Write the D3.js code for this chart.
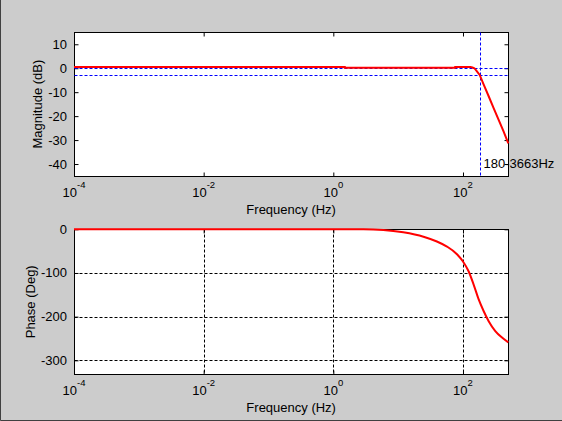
<!DOCTYPE html>
<html lang="en">
    <head>
        <meta charset="utf-8">
        <title>Bode plot</title>
        <script type="text/javascript" src="https://cdn.jsdelivr.net/npm/d3@7"></script>
        <style>
            body { margin: 0; background: #cccccc; }
            text { font-family: "Liberation Sans", Arial, sans-serif; fill: #000; }
        </style>
    </head>
    <body>
        <script type="text/javascript">
        // frequency decades shown on both x axes (exponents of 10)
        var decades = [-4, -2, 0, 2];
        var magTicks = [10, 0, -10, -20, -30, -40];
        var phaseTicks = [0, -100, -200, -300];

        // magnitude response
        var magFreq = [0.0001, 1.5, 1.5, 76, 76, 130, 140, 150, 162, 181, 208, 249, 297, 355, 424, 500];
        var magDb   = [0.55, 0.55, 0.25, 0.25, 0.55, 0.55, 0.3, 0, -1.1, -2.8, -6.7, -11.7, -16.7, -21.6, -26.5, -31.4];

        // phase response
        var phaseFreq = [0.0001, 2.9, 5.9, 12, 24.6, 39.6, 56.6, 80.8, 100, 122, 146, 174, 208, 249, 315, 400, 500];
        var phaseDeg  = [0, 0, -1.6, -7, -17, -28, -39.5, -57, -73.6, -96, -126.5, -160, -187, -210.5, -233, -248, -259];

        // cutoff markers
        var cutoffHz = 180;
        var refLevels = [0, -3];
        var bandLabel = "180-3663Hz";

        var w = 562;
        var h = 421;
        var left = 74, right = 508.3;

        function px(v) { return Math.round(v) + 0.5; }

        var svg = d3.select("body")
                    .append("svg")
                    .attr("width", w)
                    .attr("height", h);

        svg.append("rect")
            .attr("width", w)
            .attr("height", h)
            .attr("fill", "#cccccc");
        svg.append("path")
            .attr("d", "M0.5,0V" + (h - 0.5) + "H" + w)
            .attr("stroke", "#404040")
            .attr("fill", "none");

        var x = d3.scaleLog()
                  .domain([0.0001, 500])
                  .range([left, right]);

        var yMag = d3.scaleLinear()
                     .domain([-45, 15])
                     .range([176, 32.3]);

        var yPhase = d3.scaleLinear()
                       .domain([-332, 0])
                       .range([374.3, 229.3]);

        function drawAxes(y, yTicks, grid, yLabel, labelX) {
            var top = px(y.range()[1]), bottom = px(y.range()[0]);
            var l = px(left), r = px(right);
            var g = svg.append("g");

            g.append("rect")
                .attr("x", l)
                .attr("y", top)
                .attr("width", r - l)
                .attr("height", bottom - top)
                .attr("fill", "white");

            if (grid) {
                g.selectAll("line.gx")
                    .data(decades.slice(1))
                    .enter()
                    .append("line")
                    .attr("x1", function(d) { return px(x(Math.pow(10, d))); })
                    .attr("x2", function(d) { return px(x(Math.pow(10, d))); })
                    .attr("y1", top)
                    .attr("y2", bottom)
                    .attr("stroke", "black")
                    .attr("stroke-dasharray", "3,2");
                g.selectAll("line.gy")
                    .data(yTicks.filter(function(d) { return y(d) > top + 1; }))
                    .enter()
                    .append("line")
                    .attr("x1", l)
                    .attr("x2", r)
                    .attr("y1", function(d) { return px(y(d)); })
                    .attr("y2", function(d) { return px(y(d)); })
                    .attr("stroke", "black")
                    .attr("stroke-dasharray", "3,2");
            }

            // inward ticks on all four sides
            var xv = decades.map(function(d) { return Math.pow(10, d); });
            var xAxisB = d3.axisTop(x).tickValues(xv).tickSize(4).tickFormat("");
            var xAxisT = d3.axisBottom(x).tickValues(xv).tickSize(4).tickFormat("");
            var yAxisL = d3.axisRight(y).tickValues(yTicks).tickSize(4).tickFormat("");
            var yAxisR = d3.axisLeft(y).tickValues(yTicks).tickSize(4).tickFormat("");
            [[xAxisB, "translate(0," + bottom + ")"], [xAxisT, "translate(0," + top + ")"],
             [yAxisL, "translate(" + l + ",0)"], [yAxisR, "translate(" + r + ",0)"]].forEach(function(a) {
                var ax = g.append("g").attr("transform", a[1]).call(a[0]);
                ax.select(".domain").remove();
                ax.selectAll("line").attr("stroke", "black");
            });

            g.append("rect")
                .attr("x", l)
                .attr("y", top)
                .attr("width", r - l)
                .attr("height", bottom - top)
                .attr("fill", "none")
                .attr("stroke", "black");

            g.selectAll("text.yt")
                .data(yTicks)
                .enter()
                .append("text")
                .attr("x", left - 7)
                .attr("y", function(d) { return y(d) + 4.5; })
                .attr("text-anchor", "end")
                .attr("font-size", "13px")
                .text(function(d) { return d; });

            var xt = g.selectAll("text.xt")
                .data(decades)
                .enter()
                .append("text")
                .attr("x", function(d) { return x(Math.pow(10, d)); })
                .attr("y", y.range()[0] + 21)
                .attr("text-anchor", "middle")
                .attr("font-size", "13px");
            xt.append("tspan").text("10");
            xt.append("tspan")
                .attr("dy", -9.5)
                .attr("font-size", "9.5px")
                .text(function(d) { return d; });

            g.append("text")
                .attr("x", (left + right) / 2)
                .attr("y", y.range()[0] + 37.5)
                .attr("text-anchor", "middle")
                .attr("font-size", "13px")
                .text("Frequency (Hz)");

            g.append("text")
                .attr("transform", "translate(" + labelX + "," + ((y.range()[0] + y.range()[1]) / 2) + ") rotate(-90)")
                .attr("text-anchor", "middle")
                .attr("font-size", "13px")
                .text(yLabel);
        }

        drawAxes(yMag, magTicks, false, "Magnitude (dB)", 41.5);
        drawAxes(yPhase, phaseTicks, true, "Phase (Deg)", 34.5);

        // blue reference lines on magnitude plot
        svg.selectAll("line.ref")
            .data(refLevels)
            .enter()
            .append("line")
            .attr("x1", px(left))
            .attr("x2", px(right))
            .attr("y1", function(d) { return px(yMag(d)); })
            .attr("y2", function(d) { return px(yMag(d)); })
            .attr("stroke", "#0000ff")
            .attr("stroke-dasharray", "3,2");
        svg.append("line")
            .attr("x1", px(x(cutoffHz)))
            .attr("x2", px(x(cutoffHz)))
            .attr("y1", px(yMag.range()[1]))
            .attr("y2", px(yMag.range()[0]))
            .attr("stroke", "#0000ff")
            .attr("stroke-dasharray", "3,2");

        var magLine = d3.line()
            .x(function(d, i) { return x(magFreq[i]); })
            .y(function(d) { return yMag(d); });
        svg.append("path")
            .attr("d", magLine(magDb))
            .attr("fill", "none")
            .attr("stroke", "#ff0000")
            .attr("stroke-width", 2);

        var phaseLine = d3.line()
            .curve(d3.curveMonotoneX)
            .x(function(d, i) { return x(phaseFreq[i]); })
            .y(function(d) { return yPhase(d); });
        svg.append("path")
            .attr("d", phaseLine(phaseDeg))
            .attr("fill", "none")
            .attr("stroke", "#ff0000")
            .attr("stroke-width", 2);

        svg.append("text")
            .attr("x", x(cutoffHz) + 4)
            .attr("y", 168)
            .attr("font-size", "13px")
            .text(bandLabel);
        </script>
    </body>
</html>
